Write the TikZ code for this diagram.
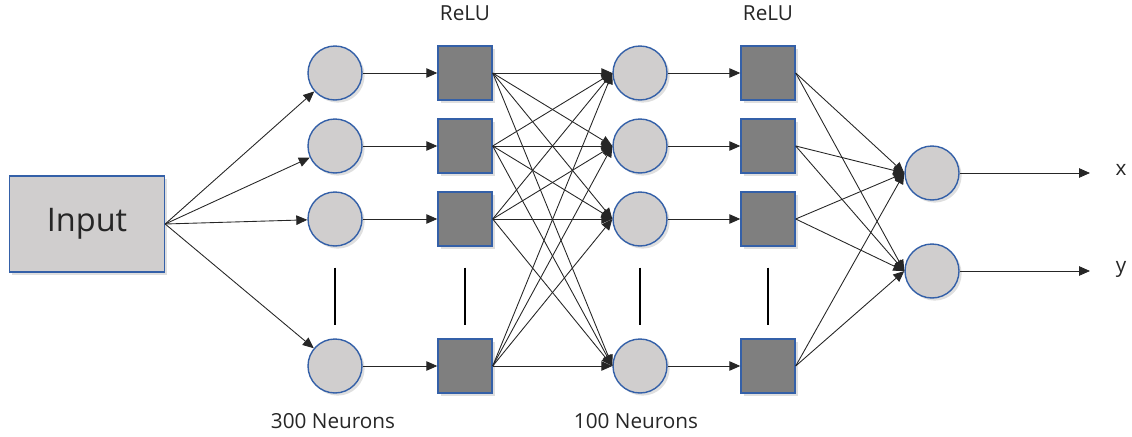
\documentclass[tikz,border=0pt]{standalone}
\usepackage{fontspec}
\setmainfont{Open Sans}
\usetikzlibrary{positioning,calc,arrows.meta,shadows}
\tikzset{>={Triangle[length=2.2mm,width=1.9mm]}}
\definecolor{nodeblue}{RGB}{52,96,168}
\definecolor{cellgray}{RGB}{208,206,206}
\definecolor{reludark}{RGB}{127,127,127}

\begin{document}
\begin{tikzpicture}[
    x=0.02cm, y=-0.02cm,
    softshadow/.style={drop shadow={opacity=0.25, shadow xshift=1.5pt, shadow yshift=-1.5pt}},
    neuron/.style={circle, draw=nodeblue, fill=cellgray, line width=0.8pt, minimum size=1.08cm, inner sep=0pt, softshadow},
    relu/.style={rectangle, draw=nodeblue, fill=reludark, line width=0.8pt, minimum size=1.08cm, inner sep=0pt, softshadow},
    inputbox/.style={rectangle, draw=nodeblue, fill=cellgray, line width=0.8pt, minimum width=3.1cm, minimum height=1.92cm, softshadow, font=\fontsize{18.5}{21}\selectfont, text=black!85},
    lbl/.style={font=\fontsize{11.8}{13}\selectfont, text=black!85, inner sep=1pt},
    link/.style={->, line width=0.5pt, draw=black!85}
]
\useasboundingbox (0,0) rectangle (1132,436);

\node[inputbox] (in) at (87,224) {Input};

% two hidden layers, each followed by its ReLU
\foreach \r/\y in {1/73,2/146,3/219,4/366} {
  \node[neuron] (a\r) at (335,\y) {};
  \node[relu] (b\r) at (465,\y) {};
  \node[neuron] (c\r) at (640,\y) {};
  \node[relu] (d\r) at (768,\y) {};
}
\node[neuron] (ox) at (932,173) {};
\node[neuron] (oy) at (932,271) {};

\node[lbl] (relua) at (465,13) {ReLU};
\node[lbl] (relub) at (768,13) {ReLU};
\node[lbl] (n300) at (333,421) {300 Neurons};
\node[lbl] (n100) at (636,421) {100 Neurons};

\coordinate (xend) at (1090,173);
\coordinate (yend) at (1090,271);
\node[lbl] (xlbl) at (1121,170) {x};
\node[lbl] (ylbl) at (1121,269) {y};

\foreach \r in {1,...,4} {
  \draw[link] (in.east) -- (a\r);
  \draw[link] (a\r) -- (b\r);
  \foreach \s in {1,...,4}
    \draw[link] (b\r.east) -- (c\s.west);
  \draw[link] (c\r) -- (d\r);
  \draw[link] (d\r.east) -- (ox.west);
  \draw[link] (d\r.east) -- (oy.west);
}
\draw[link] (ox) -- (xend);
\draw[link] (oy) -- (yend);

% dots between the third and last unit
\foreach \l in {a,b,c,d}
  \draw[line width=0.6pt] ($(\l3)!0.33!(\l4)$) -- ($(\l3)!0.72!(\l4)$);
\end{tikzpicture}
\end{document}
